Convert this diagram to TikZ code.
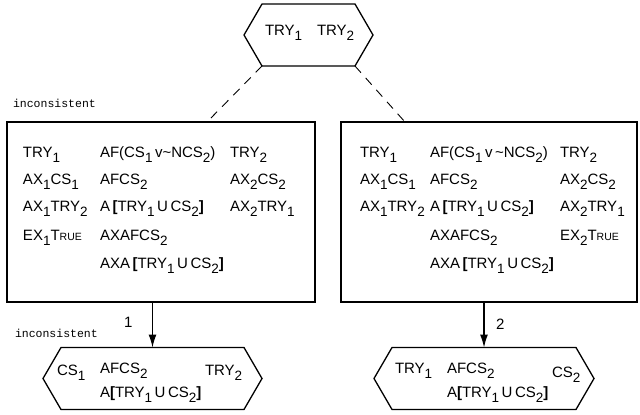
\documentclass[tikz,border=0pt]{standalone}
\usepackage{fontspec}
\setmainfont{Liberation Sans}
\newfontfamily\labelmono{Liberation Mono}
\usetikzlibrary{arrows.meta}
% lowered digit used as an index, small capitals for "True", heavy brackets
\newcommand\sbx[1]{\raisebox{-5.5pt}{\fontsize{13.5}{13.5}\selectfont #1}}
\newcommand\smc[1]{{\fontsize{10.5}{10.5}\selectfont #1}}
\newcommand\lbk{\textbf{[}}
\newcommand\rbk{\textbf{]}}

\begin{document}
\begin{tikzpicture}[x=1pt,y=-1pt,
  every node/.style={inner sep=0pt, outer sep=0pt},
  formula/.style={anchor=base west, font=\fontsize{15}{15}\selectfont},
  note/.style={anchor=base west, font=\labelmono\fontsize{11.5}{12}\selectfont},
  statebox/.style={draw, line width=1.4pt, minimum height=180pt},
  hexnode/.style={minimum height=62pt},
  hexline/.style={line width=1.3pt, line join=miter},
  dashline/.style={line width=0.9pt, dash pattern=on 9pt off 7pt},
  arrowline/.style={line width=1.2pt, -{Latex[length=13pt,width=8pt]}},
]
\useasboundingbox (0,0) rectangle (640,415);

% ---- root state
\node[hexnode, minimum width=93pt] (root) at (308.5,35) {};
\draw[hexline] (root.north west) -- (root.north east) -- ([xshift=18pt]root.east)
  -- (root.south east) -- (root.south west) -- ([xshift=-18pt]root.west) -- cycle;
\node[formula] (r1) at (265,35) {TRY\sbx{1}};
\node[formula] (r2) at (317,35) {TRY\sbx{2}};

% ---- two expanded states
\node[statebox, minimum width=308pt] (lbox) at (161,212) {};
\node[statebox, minimum width=296pt] (rbox) at (489,212) {};

\coordinate (lin) at (207,122);
\coordinate (rin) at (405,122);
\draw[dashline] (root.south west) -- (lin);
\draw[dashline] (root.south east) -- (rin);

\node[note] (inc1) at (13,107) {inconsistent};

% left state contents
\node[formula] (la1) at (23,157) {TRY\sbx{1}};
\node[formula] (la2) at (23,184) {AX\sbx{1}CS\sbx{1}};
\node[formula] (la3) at (23,211) {AX\sbx{1}TRY\sbx{2}};
\node[formula] (la4) at (23,240) {EX\sbx{1}T\smc{RUE}};
\node[formula] (lb1) at (100,157) {AF(CS\sbx{1}\,v\textasciitilde NCS\sbx{2})};
\node[formula] (lb2) at (100,184) {AFCS\sbx{2}};
\node[formula] (lb3) at (100,211) {A\,\lbk TRY\sbx{1}\,U\,CS\sbx{2}\rbk};
\node[formula] (lb4) at (100,240) {AXAFCS\sbx{2}};
\node[formula] (lb5) at (100,268) {AXA\,\lbk TRY\sbx{1}\,U\,CS\sbx{2}\rbk};
\node[formula] (lc1) at (230,157) {TRY\sbx{2}};
\node[formula] (lc2) at (230,184) {AX\sbx{2}CS\sbx{2}};
\node[formula] (lc3) at (230,211) {AX\sbx{2}TRY\sbx{1}};

% right state contents
\node[formula] (ra1) at (360,157) {TRY\sbx{1}};
\node[formula] (ra2) at (360,184) {AX\sbx{1}CS\sbx{1}};
\node[formula] (ra3) at (360,211) {AX\sbx{1}TRY\sbx{2}};
\node[formula] (rb1) at (430,157) {AF(CS\sbx{1}\,v\,\textasciitilde NCS\sbx{2})};
\node[formula] (rb2) at (430,184) {AFCS\sbx{2}};
\node[formula] (rb3) at (430,211) {A\,\lbk TRY\sbx{1}\,U\,CS\sbx{2}\rbk};
\node[formula] (rb4) at (430,240) {AXAFCS\sbx{2}};
\node[formula] (rb5) at (430,268) {AXA\,\lbk TRY\sbx{1}\,U\,CS\sbx{2}\rbk};
\node[formula] (rc1) at (560,157) {TRY\sbx{2}};
\node[formula] (rc2) at (560,184) {AX\sbx{2}CS\sbx{2}};
\node[formula] (rc3) at (560,211) {AX\sbx{2}TRY\sbx{1}};
\node[formula] (rc4) at (560,240) {EX\sbx{2}T\smc{RUE}};

% ---- successor states
\node[hexnode, minimum width=183pt] (lhex) at (152.5,378.5) {};
\draw[hexline] (lhex.north west) -- (lhex.north east) -- ([xshift=18pt]lhex.east)
  -- (lhex.south east) -- (lhex.south west) -- ([xshift=-18pt]lhex.west) -- cycle;
\node[hexnode, minimum width=184pt] (rhex) at (484,378.5) {};
\draw[hexline] (rhex.north west) -- (rhex.north east) -- ([xshift=18pt]rhex.east)
  -- (rhex.south east) -- (rhex.south west) -- ([xshift=-18pt]rhex.west) -- cycle;

\draw[arrowline] (lhex.north |- lbox.south) -- (lhex.north);
\draw[arrowline] (rhex.north |- rbox.south) -- (rhex.north);
\node[formula] (e1) at (124,327) {1};
\node[formula] (e2) at (496,329) {2};

\node[note] (inc2) at (15,337) {inconsistent};

\node[formula] (lh1) at (57,375) {CS\sbx{1}};
\node[formula] (lh2) at (100,373) {AFCS\sbx{2}};
\node[formula] (lh3) at (100,397) {A\lbk TRY\sbx{1}\,U\,CS\sbx{2}\rbk};
\node[formula] (lh4) at (205,375) {TRY\sbx{2}};

\node[formula] (rh1) at (395,373) {TRY\sbx{1}};
\node[formula] (rh2) at (447,373) {AFCS\sbx{2}};
\node[formula] (rh3) at (447,397) {A\lbk TRY\sbx{1}\,U\,CS\sbx{2}\rbk};
\node[formula] (rh4) at (552,377) {CS\sbx{2}};
\end{tikzpicture}
\end{document}
